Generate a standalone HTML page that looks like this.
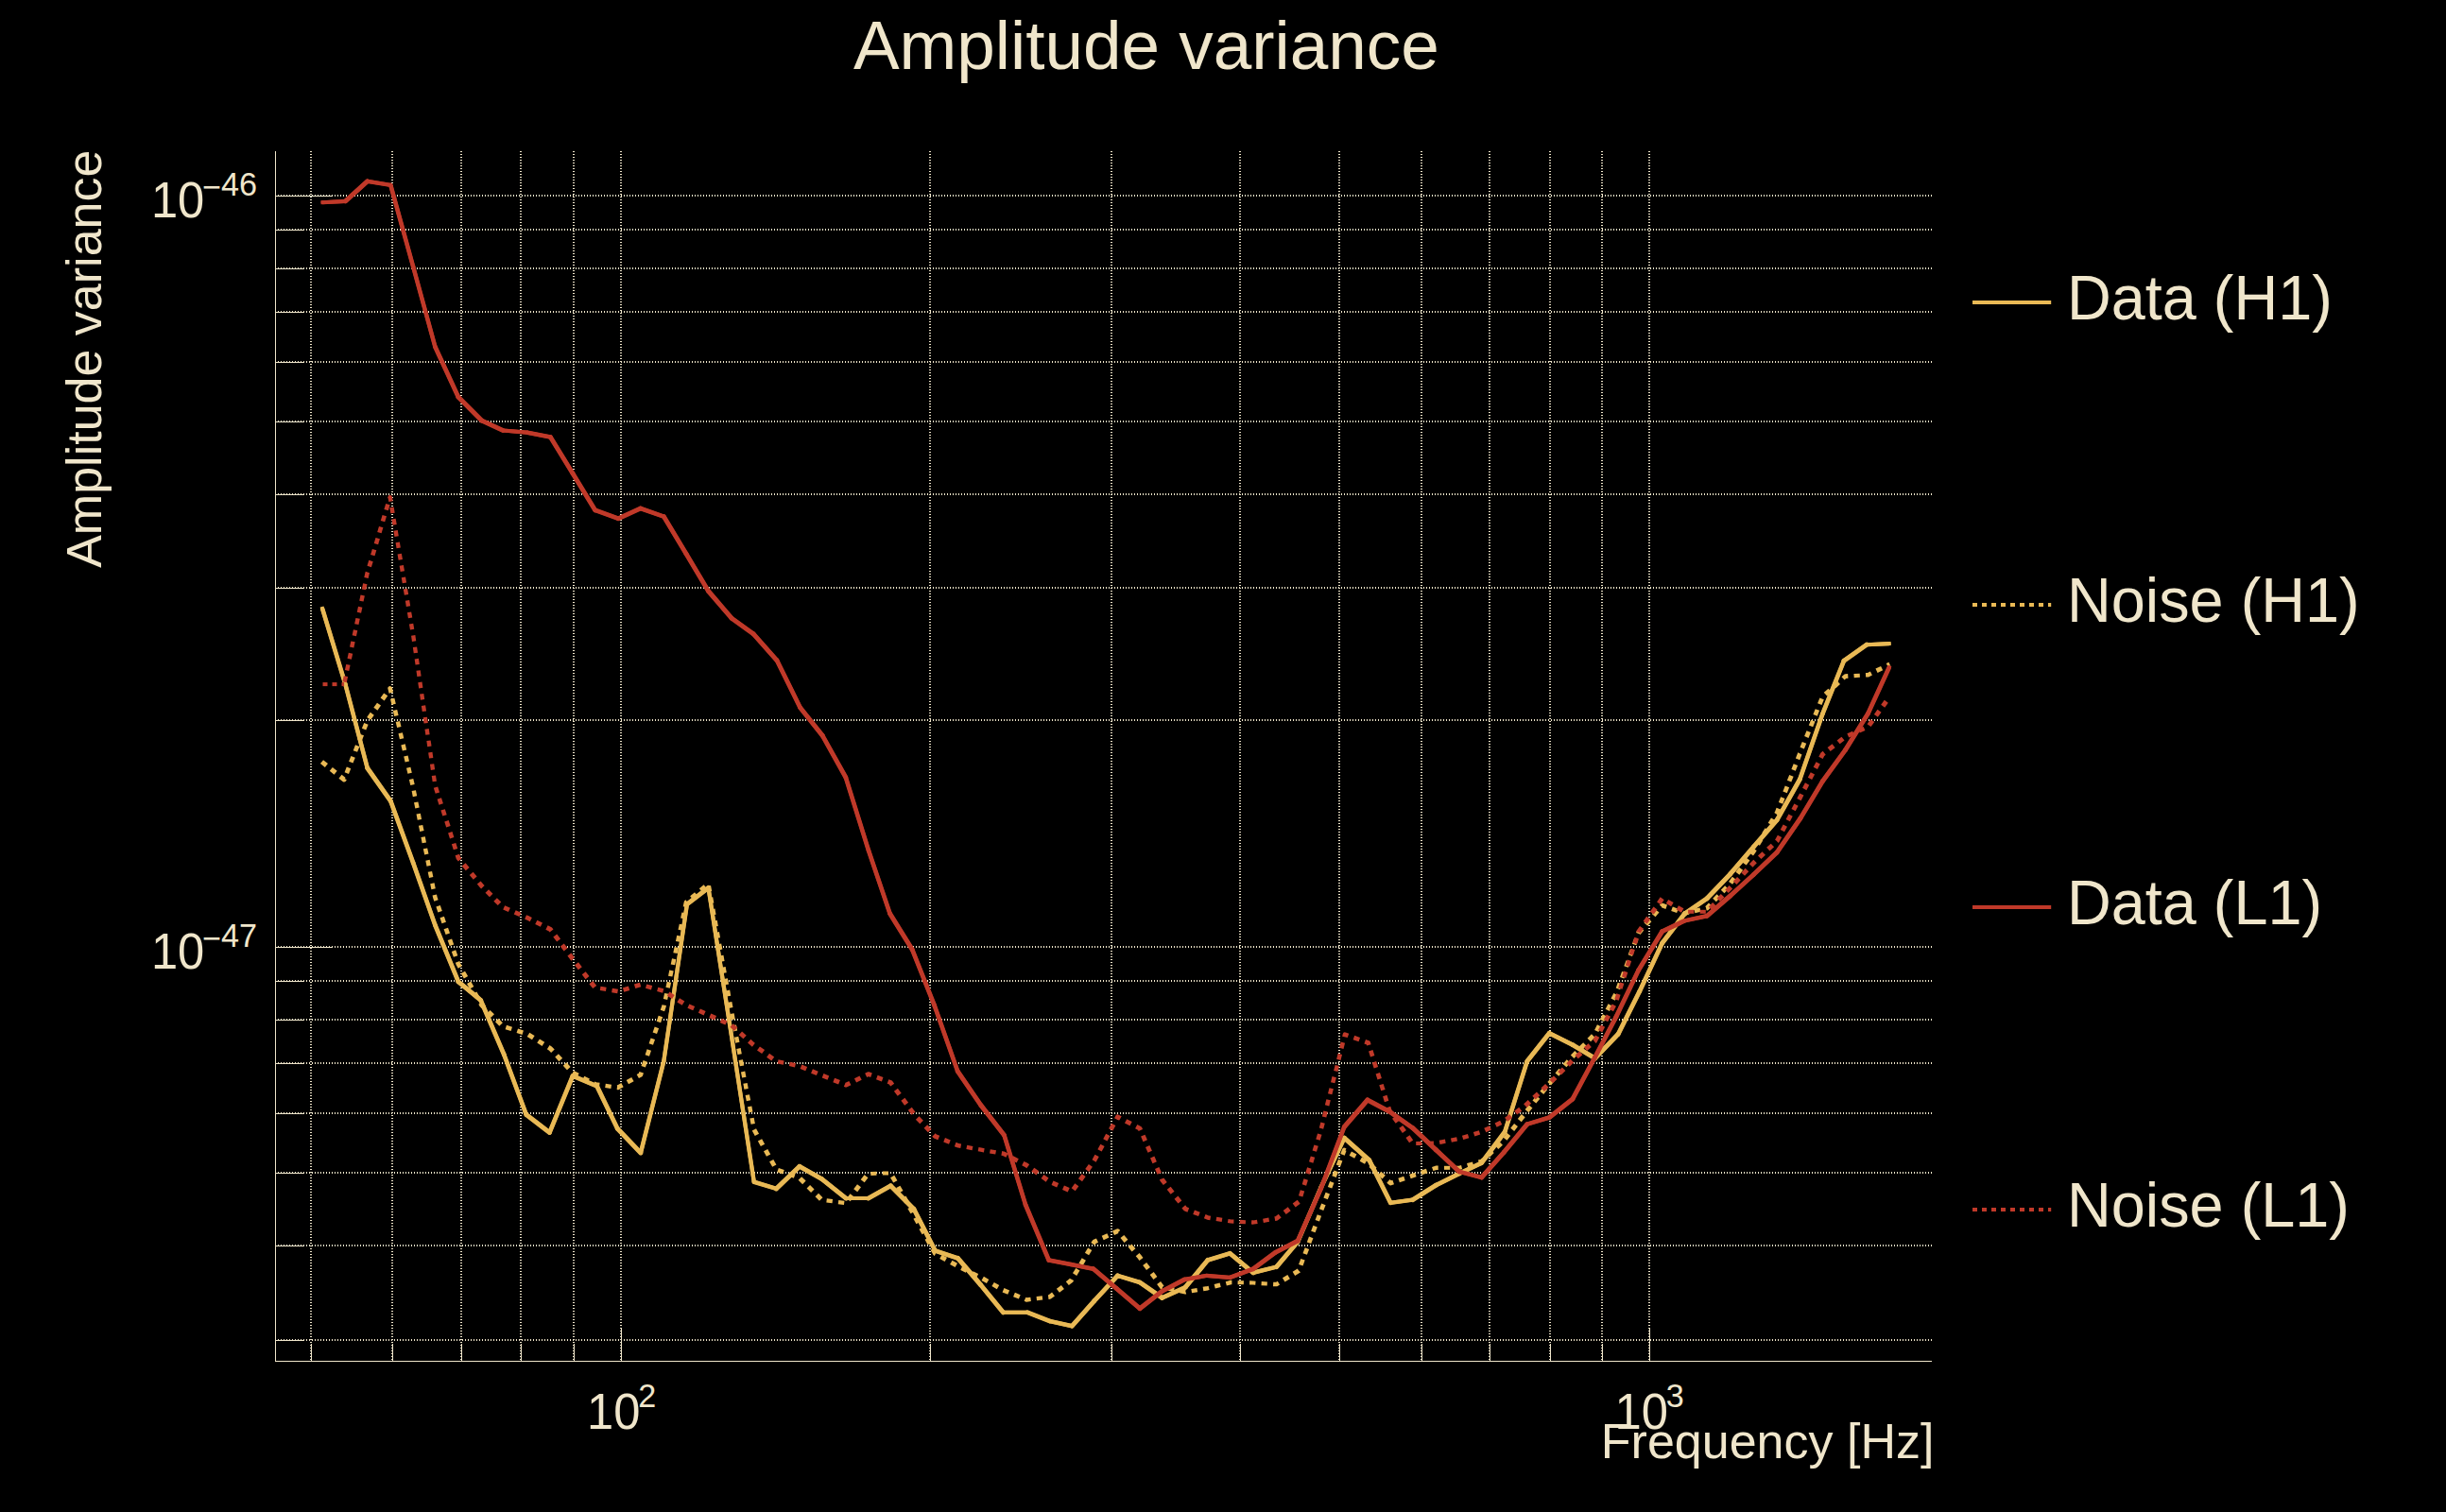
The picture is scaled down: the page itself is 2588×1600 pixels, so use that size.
<!DOCTYPE html>
<html lang="en"><head><meta charset="utf-8"><title>Amplitude variance</title>
<style>
html,body{margin:0;padding:0;background:#000;}
body{width:2588px;height:1600px;overflow:hidden;}
svg{display:block;}
text{font-family:"Liberation Sans",sans-serif;fill:#F0E6CB;}
.grid line{stroke:#F0E6CB;stroke-width:2;stroke-dasharray:1 2;}
.axis line{stroke:#F0E6CB;stroke-width:1;}
</style></head><body>
<svg width="2588" height="1600" viewBox="0 0 2588 1600">
<rect x="0" y="0" width="2588" height="1600" fill="#000"/>
<g class="grid">
<line x1="329" y1="160" x2="329" y2="1440"/>
<line x1="415" y1="160" x2="415" y2="1440"/>
<line x1="488" y1="160" x2="488" y2="1440"/>
<line x1="551" y1="160" x2="551" y2="1440"/>
<line x1="607" y1="160" x2="607" y2="1440"/>
<line x1="657" y1="160" x2="657" y2="1440"/>
<line x1="984" y1="160" x2="984" y2="1440"/>
<line x1="1176" y1="160" x2="1176" y2="1440"/>
<line x1="1312" y1="160" x2="1312" y2="1440"/>
<line x1="1417" y1="160" x2="1417" y2="1440"/>
<line x1="1504" y1="160" x2="1504" y2="1440"/>
<line x1="1576" y1="160" x2="1576" y2="1440"/>
<line x1="1640" y1="160" x2="1640" y2="1440"/>
<line x1="1695" y1="160" x2="1695" y2="1440"/>
<line x1="1745" y1="160" x2="1745" y2="1440"/>
<line x1="291" y1="207" x2="2044" y2="207"/>
<line x1="291" y1="243" x2="2044" y2="243"/>
<line x1="291" y1="284" x2="2044" y2="284"/>
<line x1="291" y1="330" x2="2044" y2="330"/>
<line x1="291" y1="383" x2="2044" y2="383"/>
<line x1="291" y1="446" x2="2044" y2="446"/>
<line x1="291" y1="523" x2="2044" y2="523"/>
<line x1="291" y1="622" x2="2044" y2="622"/>
<line x1="291" y1="762" x2="2044" y2="762"/>
<line x1="291" y1="1002" x2="2044" y2="1002"/>
<line x1="291" y1="1038" x2="2044" y2="1038"/>
<line x1="291" y1="1079" x2="2044" y2="1079"/>
<line x1="291" y1="1125" x2="2044" y2="1125"/>
<line x1="291" y1="1178" x2="2044" y2="1178"/>
<line x1="291" y1="1241" x2="2044" y2="1241"/>
<line x1="291" y1="1318" x2="2044" y2="1318"/>
<line x1="291" y1="1418" x2="2044" y2="1418"/>
</g>
<g class="axis">
<line x1="291.5" y1="160" x2="291.5" y2="1441"/>
<line x1="291" y1="1440.5" x2="2044" y2="1440.5"/>
<line x1="329.5" y1="1440" x2="329.5" y2="1422"/>
<line x1="415.5" y1="1440" x2="415.5" y2="1422"/>
<line x1="488.5" y1="1440" x2="488.5" y2="1422"/>
<line x1="551.5" y1="1440" x2="551.5" y2="1422"/>
<line x1="607.5" y1="1440" x2="607.5" y2="1422"/>
<line x1="657.5" y1="1440" x2="657.5" y2="1405"/>
<line x1="984.5" y1="1440" x2="984.5" y2="1422"/>
<line x1="1176.5" y1="1440" x2="1176.5" y2="1422"/>
<line x1="1312.5" y1="1440" x2="1312.5" y2="1422"/>
<line x1="1417.5" y1="1440" x2="1417.5" y2="1422"/>
<line x1="1504.5" y1="1440" x2="1504.5" y2="1422"/>
<line x1="1576.5" y1="1440" x2="1576.5" y2="1422"/>
<line x1="1640.5" y1="1440" x2="1640.5" y2="1422"/>
<line x1="1695.5" y1="1440" x2="1695.5" y2="1422"/>
<line x1="1745.5" y1="1440" x2="1745.5" y2="1405"/>
<line x1="292" y1="207.5" x2="352" y2="207.5"/>
<line x1="292" y1="243.5" x2="322" y2="243.5"/>
<line x1="292" y1="284.5" x2="322" y2="284.5"/>
<line x1="292" y1="330.5" x2="322" y2="330.5"/>
<line x1="292" y1="383.5" x2="322" y2="383.5"/>
<line x1="292" y1="446.5" x2="322" y2="446.5"/>
<line x1="292" y1="523.5" x2="322" y2="523.5"/>
<line x1="292" y1="622.5" x2="322" y2="622.5"/>
<line x1="292" y1="762.5" x2="322" y2="762.5"/>
<line x1="292" y1="1002.5" x2="352" y2="1002.5"/>
<line x1="292" y1="1038.5" x2="322" y2="1038.5"/>
<line x1="292" y1="1079.5" x2="322" y2="1079.5"/>
<line x1="292" y1="1125.5" x2="322" y2="1125.5"/>
<line x1="292" y1="1178.5" x2="322" y2="1178.5"/>
<line x1="292" y1="1241.5" x2="322" y2="1241.5"/>
<line x1="292" y1="1318.5" x2="322" y2="1318.5"/>
<line x1="292" y1="1418.5" x2="322" y2="1418.5"/>
</g>
<g stroke="#E9B955" fill="none">
<path stroke-width="4" stroke-linejoin="round" d="M340.5 642.1 L365.5 724.5 L388.7 812.7 L413.3 847.6 L437.1 912.9 L460.4 979.0 L485.0 1038.9 L508.6 1058.4 L533.2 1115.8 L556.8 1179.5 L581.5 1198.4 L606.0 1138.5 L631.6 1149.4 L653.3 1194.3 L677.9 1219.9 L702.3 1123.0 L726.9 956.9 L749.5 939.5 L774.1 1097.0 L797.8 1250.7 L821.4 1257.9 L846.0 1234.3 L869.5 1247.6 L895.2 1268.1 L918.7 1268.1 L942.3 1254.8 L966.9 1279.4 L989.5 1323.5 L1013.5 1331.5 L1037.5 1359.5 L1061.5 1388.8 L1087.1 1388.8 L1110.7 1398.0 L1134.3 1403.2 L1157.8 1376.6 L1182.5 1349.9 L1206.0 1357.0 L1229.6 1373.4 L1254.2 1362.2 L1277.8 1333.5 L1301.4 1326.3 L1326.0 1346.8 L1350.6 1340.6 L1373.1 1314.0 L1397.7 1256.6 L1422.3 1204.2 L1448.7 1227.7 L1471.3 1272.8 L1494.8 1269.6 L1519.4 1254.2 L1544.0 1241.9 L1567.6 1230.6 L1592.2 1197.8 L1615.8 1123.0 L1639.3 1093.3 L1663.9 1105.6 L1687.5 1119.9 L1712.1 1094.3 L1734.7 1049.2 L1758.7 998.0 L1782.3 967.1 L1806.0 950.8 L1830.7 924.9 L1855.4 896.2 L1880.2 867.6 L1904.3 824.7 L1928.4 755.3 L1951.0 699.2 L1975.0 682.2 L2000.7 681.0"/>
<path stroke-width="4.62" stroke-linecap="round" d="M341.2 644.3 L365.5 724.5"/>
<path stroke-width="4.56" stroke-linecap="round" d="M365.5 724.5 L388.7 812.7"/>
<path stroke-width="4.96" stroke-linecap="round" d="M388.7 812.7 L413.3 847.6"/>
<path stroke-width="4.70" stroke-linecap="round" d="M413.3 847.6 L437.1 912.9"/>
<path stroke-width="4.69" stroke-linecap="round" d="M437.1 912.9 L460.4 979.0"/>
<path stroke-width="4.76" stroke-linecap="round" d="M460.4 979.0 L485.0 1038.9"/>
<path stroke-width="5.00" stroke-linecap="round" d="M485.0 1038.9 L508.6 1058.4"/>
<path stroke-width="4.77" stroke-linecap="round" d="M508.6 1058.4 L533.2 1115.8"/>
<path stroke-width="4.71" stroke-linecap="round" d="M533.2 1115.8 L556.8 1179.5"/>
<path stroke-width="4.98" stroke-linecap="round" d="M556.8 1179.5 L581.5 1198.4"/>
<path stroke-width="4.75" stroke-linecap="round" d="M581.5 1198.4 L606.0 1138.5"/>
<path stroke-width="4.77" stroke-linecap="round" d="M606.0 1138.5 L631.6 1149.4"/>
<path stroke-width="4.83" stroke-linecap="round" d="M631.6 1149.4 L653.3 1194.3"/>
<path stroke-width="5.01" stroke-linecap="round" d="M653.3 1194.3 L677.9 1219.9"/>
<path stroke-width="4.54" stroke-linecap="round" d="M677.9 1219.9 L702.3 1123.0"/>
<path stroke-width="4.34" stroke-linecap="round" d="M702.3 1123.0 L726.9 956.9"/>
<path stroke-width="4.98" stroke-linecap="round" d="M726.9 956.9 L749.5 939.5"/>
<path stroke-width="4.36" stroke-linecap="round" d="M749.5 939.5 L774.1 1097.0"/>
<path stroke-width="4.36" stroke-linecap="round" d="M774.1 1097.0 L797.8 1250.7"/>
<path stroke-width="4.62" stroke-linecap="round" d="M797.8 1250.7 L821.4 1257.9"/>
<path stroke-width="5.01" stroke-linecap="round" d="M821.4 1257.9 L846.0 1234.3"/>
<path stroke-width="4.89" stroke-linecap="round" d="M846.0 1234.3 L869.5 1247.6"/>
<path stroke-width="4.99" stroke-linecap="round" d="M869.5 1247.6 L895.2 1268.1"/>
<path stroke-width="4.00" stroke-linecap="round" d="M895.2 1268.1 L918.7 1268.1"/>
<path stroke-width="4.89" stroke-linecap="round" d="M918.7 1268.1 L942.3 1254.8"/>
<path stroke-width="5.01" stroke-linecap="round" d="M942.3 1254.8 L966.9 1279.4"/>
<path stroke-width="4.85" stroke-linecap="round" d="M966.9 1279.4 L989.5 1323.5"/>
<path stroke-width="4.66" stroke-linecap="round" d="M989.5 1323.5 L1013.5 1331.5"/>
<path stroke-width="5.00" stroke-linecap="round" d="M1013.5 1331.5 L1037.5 1359.5"/>
<path stroke-width="4.99" stroke-linecap="round" d="M1037.5 1359.5 L1061.5 1388.8"/>
<path stroke-width="4.00" stroke-linecap="round" d="M1061.5 1388.8 L1087.1 1388.8"/>
<path stroke-width="4.73" stroke-linecap="round" d="M1087.1 1388.8 L1110.7 1398.0"/>
<path stroke-width="4.48" stroke-linecap="round" d="M1110.7 1398.0 L1134.3 1403.2"/>
<path stroke-width="5.00" stroke-linecap="round" d="M1134.3 1403.2 L1157.8 1376.6"/>
<path stroke-width="5.01" stroke-linecap="round" d="M1157.8 1376.6 L1182.5 1349.9"/>
<path stroke-width="4.62" stroke-linecap="round" d="M1182.5 1349.9 L1206.0 1357.0"/>
<path stroke-width="4.96" stroke-linecap="round" d="M1206.0 1357.0 L1229.6 1373.4"/>
<path stroke-width="4.80" stroke-linecap="round" d="M1229.6 1373.4 L1254.2 1362.2"/>
<path stroke-width="5.00" stroke-linecap="round" d="M1254.2 1362.2 L1277.8 1333.5"/>
<path stroke-width="4.62" stroke-linecap="round" d="M1277.8 1333.5 L1301.4 1326.3"/>
<path stroke-width="5.00" stroke-linecap="round" d="M1301.4 1326.3 L1326.0 1346.8"/>
<path stroke-width="4.54" stroke-linecap="round" d="M1326.0 1346.8 L1350.6 1340.6"/>
<path stroke-width="5.00" stroke-linecap="round" d="M1350.6 1340.6 L1373.1 1314.0"/>
<path stroke-width="4.77" stroke-linecap="round" d="M1373.1 1314.0 L1397.7 1256.6"/>
<path stroke-width="4.82" stroke-linecap="round" d="M1397.7 1256.6 L1422.3 1204.2"/>
<path stroke-width="5.01" stroke-linecap="round" d="M1422.3 1204.2 L1448.7 1227.7"/>
<path stroke-width="4.84" stroke-linecap="round" d="M1448.7 1227.7 L1471.3 1272.8"/>
<path stroke-width="4.32" stroke-linecap="round" d="M1471.3 1272.8 L1494.8 1269.6"/>
<path stroke-width="4.93" stroke-linecap="round" d="M1494.8 1269.6 L1519.4 1254.2"/>
<path stroke-width="4.84" stroke-linecap="round" d="M1519.4 1254.2 L1544.0 1241.9"/>
<path stroke-width="4.82" stroke-linecap="round" d="M1544.0 1241.9 L1567.6 1230.6"/>
<path stroke-width="4.98" stroke-linecap="round" d="M1567.6 1230.6 L1592.2 1197.8"/>
<path stroke-width="4.64" stroke-linecap="round" d="M1592.2 1197.8 L1615.8 1123.0"/>
<path stroke-width="4.99" stroke-linecap="round" d="M1615.8 1123.0 L1639.3 1093.3"/>
<path stroke-width="4.84" stroke-linecap="round" d="M1639.3 1093.3 L1663.9 1105.6"/>
<path stroke-width="4.92" stroke-linecap="round" d="M1663.9 1105.6 L1687.5 1119.9"/>
<path stroke-width="5.01" stroke-linecap="round" d="M1687.5 1119.9 L1712.1 1094.3"/>
<path stroke-width="4.84" stroke-linecap="round" d="M1712.1 1094.3 L1734.7 1049.2"/>
<path stroke-width="4.81" stroke-linecap="round" d="M1734.7 1049.2 L1758.7 998.0"/>
<path stroke-width="4.98" stroke-linecap="round" d="M1758.7 998.0 L1782.3 967.1"/>
<path stroke-width="4.96" stroke-linecap="round" d="M1782.3 967.1 L1806.0 950.8"/>
<path stroke-width="5.01" stroke-linecap="round" d="M1806.0 950.8 L1830.7 924.9"/>
<path stroke-width="5.00" stroke-linecap="round" d="M1830.7 924.9 L1855.4 896.2"/>
<path stroke-width="5.00" stroke-linecap="round" d="M1855.4 896.2 L1880.2 867.6"/>
<path stroke-width="4.89" stroke-linecap="round" d="M1880.2 867.6 L1904.3 824.7"/>
<path stroke-width="4.68" stroke-linecap="round" d="M1904.3 824.7 L1928.4 755.3"/>
<path stroke-width="4.75" stroke-linecap="round" d="M1928.4 755.3 L1951.0 699.2"/>
<path stroke-width="4.96" stroke-linecap="round" d="M1951.0 699.2 L1975.0 682.2"/>
<path stroke-width="4.12" stroke-linecap="round" d="M1975.0 682.2 L1998.6 681.1"/>
</g>
<g stroke="#E9B955" fill="none" stroke-linejoin="round">
<path stroke-width="4.99" d="M340.5 806.1 L345.4 810.0"/>
<path stroke-width="4.99" d="M350.3 813.9 L355.1 817.8"/>
<path stroke-width="4.95" d="M360.0 821.7 L364.1 825.0 L364.5 824.1"/>
<path stroke-width="4.74" d="M366.8 818.2 L369.0 812.4"/>
<path stroke-width="4.74" d="M371.3 806.6 L373.6 800.8"/>
<path stroke-width="4.74" d="M375.9 795.0 L378.2 789.2"/>
<path stroke-width="4.74" d="M380.5 783.3 L382.8 777.5"/>
<path stroke-width="4.74" d="M385.1 771.7 L387.4 765.9"/>
<path stroke-width="4.96" d="M390.2 760.4 L393.8 755.3"/>
<path stroke-width="4.96" d="M397.4 750.2 L401.0 745.1"/>
<path stroke-width="4.96" d="M404.6 740.0 L408.2 734.8"/>
<path stroke-width="4.62" d="M411.8 729.7 L412.7 728.5 L413.8 733.1"/>
<path stroke-width="4.51" d="M415.2 739.2 L416.6 745.3"/>
<path stroke-width="4.51" d="M418.0 751.4 L419.4 757.5"/>
<path stroke-width="4.51" d="M420.9 763.5 L422.3 769.6"/>
<path stroke-width="4.51" d="M423.7 775.7 L425.1 781.8"/>
<path stroke-width="4.51" d="M426.5 787.9 L428.0 794.0"/>
<path stroke-width="4.51" d="M429.4 800.1 L430.8 806.1"/>
<path stroke-width="4.51" d="M432.2 812.2 L433.6 818.3"/>
<path stroke-width="4.51" d="M435.1 824.4 L436.5 830.5"/>
<path stroke-width="4.45" d="M437.8 836.6 L439.0 842.7"/>
<path stroke-width="4.45" d="M440.2 848.9 L441.5 855.0"/>
<path stroke-width="4.45" d="M442.7 861.1 L443.9 867.3"/>
<path stroke-width="4.45" d="M445.1 873.4 L446.4 879.5"/>
<path stroke-width="4.45" d="M447.6 885.6 L448.8 891.8"/>
<path stroke-width="4.45" d="M450.0 897.9 L451.3 904.0"/>
<path stroke-width="4.45" d="M452.5 910.2 L453.7 916.3"/>
<path stroke-width="4.45" d="M454.9 922.4 L456.2 928.5"/>
<path stroke-width="4.45" d="M457.4 934.7 L458.6 940.8"/>
<path stroke-width="4.57" d="M459.8 946.9 L460.4 949.7 L461.5 952.9"/>
<path stroke-width="4.68" d="M463.6 958.8 L465.6 964.7"/>
<path stroke-width="4.68" d="M467.7 970.6 L469.7 976.5"/>
<path stroke-width="4.68" d="M471.8 982.4 L473.8 988.3"/>
<path stroke-width="4.68" d="M475.9 994.2 L478.0 1000.2"/>
<path stroke-width="4.68" d="M480.0 1006.1 L482.1 1012.0"/>
<path stroke-width="4.80" d="M484.1 1017.9 L485.0 1020.4 L486.8 1023.5"/>
<path stroke-width="4.89" d="M489.9 1028.9 L493.0 1034.3"/>
<path stroke-width="4.89" d="M496.1 1039.8 L499.2 1045.2"/>
<path stroke-width="4.89" d="M502.3 1050.6 L505.4 1056.1"/>
<path stroke-width="4.97" d="M508.5 1061.5 L509.6 1063.5 L512.4 1066.3"/>
<path stroke-width="5.01" d="M516.8 1070.7 L521.2 1075.1"/>
<path stroke-width="5.01" d="M525.7 1079.5 L530.1 1083.9"/>
<path stroke-width="4.64" d="M535.3 1087.0 L541.3 1088.9"/>
<path stroke-width="4.64" d="M547.3 1090.8 L553.2 1092.7"/>
<path stroke-width="4.93" d="M559.0 1094.9 L564.3 1098.2"/>
<path stroke-width="4.93" d="M569.6 1101.5 L574.9 1104.9"/>
<path stroke-width="4.98" d="M580.2 1108.2 L582.4 1109.6 L584.9 1112.3"/>
<path stroke-width="5.01" d="M589.1 1116.9 L593.3 1121.5"/>
<path stroke-width="5.01" d="M597.6 1126.0 L601.8 1130.6"/>
<path stroke-width="4.84" d="M606.0 1135.2 L611.6 1138.0"/>
<path stroke-width="4.84" d="M617.2 1140.8 L622.8 1143.6"/>
<path stroke-width="4.53" d="M628.4 1146.4 L630.5 1147.5 L634.3 1148.0"/>
<path stroke-width="4.33" d="M640.5 1148.9 L646.7 1149.8"/>
<path stroke-width="4.81" d="M652.9 1150.7 L653.8 1150.8 L658.5 1148.2"/>
<path stroke-width="4.89" d="M663.9 1145.1 L669.4 1142.1"/>
<path stroke-width="4.79" d="M674.8 1139.0 L677.8 1137.4 L678.7 1134.7"/>
<path stroke-width="4.67" d="M680.7 1128.8 L682.8 1122.9"/>
<path stroke-width="4.67" d="M684.8 1116.9 L686.8 1111.0"/>
<path stroke-width="4.67" d="M688.8 1105.1 L690.8 1099.2"/>
<path stroke-width="4.67" d="M692.8 1093.3 L694.9 1087.4"/>
<path stroke-width="4.67" d="M696.9 1081.4 L698.9 1075.5"/>
<path stroke-width="4.61" d="M700.9 1069.6 L702.3 1065.5 L702.7 1063.6"/>
<path stroke-width="4.47" d="M704.0 1057.5 L705.3 1051.4"/>
<path stroke-width="4.47" d="M706.6 1045.3 L707.9 1039.2"/>
<path stroke-width="4.47" d="M709.2 1033.1 L710.5 1027.0"/>
<path stroke-width="4.47" d="M711.9 1020.9 L713.2 1014.7"/>
<path stroke-width="4.47" d="M714.5 1008.6 L715.8 1002.5"/>
<path stroke-width="4.47" d="M717.1 996.4 L718.4 990.3"/>
<path stroke-width="4.47" d="M719.7 984.2 L721.0 978.1"/>
<path stroke-width="4.47" d="M722.3 972.0 L723.6 965.9"/>
<path stroke-width="4.57" d="M724.9 959.7 L726.0 954.8 L726.9 954.0"/>
<path stroke-width="5.00" d="M731.7 950.1 L736.6 946.1"/>
<path stroke-width="5.00" d="M741.4 942.1 L746.2 938.1"/>
<path stroke-width="4.41" d="M749.9 937.3 L751.0 943.5"/>
<path stroke-width="4.41" d="M752.1 949.6 L753.2 955.8"/>
<path stroke-width="4.41" d="M754.3 961.9 L755.4 968.1"/>
<path stroke-width="4.41" d="M756.6 974.2 L757.7 980.4"/>
<path stroke-width="4.41" d="M758.8 986.5 L759.9 992.7"/>
<path stroke-width="4.41" d="M761.0 998.8 L762.2 1005.0"/>
<path stroke-width="4.41" d="M763.3 1011.1 L764.4 1017.3"/>
<path stroke-width="4.41" d="M765.5 1023.4 L766.6 1029.6"/>
<path stroke-width="4.41" d="M767.7 1035.7 L768.9 1041.9"/>
<path stroke-width="4.41" d="M770.0 1048.0 L771.1 1054.2"/>
<path stroke-width="4.41" d="M772.2 1060.3 L773.3 1066.5"/>
<path stroke-width="4.43" d="M774.5 1072.6 L775.6 1078.8"/>
<path stroke-width="4.43" d="M776.8 1084.9 L778.0 1091.0"/>
<path stroke-width="4.43" d="M779.1 1097.2 L780.3 1103.3"/>
<path stroke-width="4.43" d="M781.5 1109.5 L782.6 1115.6"/>
<path stroke-width="4.43" d="M783.8 1121.7 L785.0 1127.9"/>
<path stroke-width="4.43" d="M786.1 1134.0 L787.3 1140.2"/>
<path stroke-width="4.43" d="M788.5 1146.3 L789.6 1152.4"/>
<path stroke-width="4.43" d="M790.8 1158.6 L792.0 1164.7"/>
<path stroke-width="4.43" d="M793.2 1170.9 L794.3 1177.0"/>
<path stroke-width="4.43" d="M795.5 1183.1 L796.7 1189.3"/>
<path stroke-width="4.89" d="M797.9 1195.4 L800.9 1200.9"/>
<path stroke-width="4.89" d="M804.0 1206.3 L807.0 1211.8"/>
<path stroke-width="4.89" d="M810.1 1217.2 L813.1 1222.7"/>
<path stroke-width="4.89" d="M816.2 1228.1 L819.3 1233.6"/>
<path stroke-width="4.71" d="M823.1 1238.1 L829.0 1240.2"/>
<path stroke-width="4.71" d="M834.8 1242.4 L840.7 1244.6"/>
<path stroke-width="5.01" d="M846.4 1247.0 L850.9 1251.4"/>
<path stroke-width="5.01" d="M855.3 1255.8 L859.8 1260.2"/>
<path stroke-width="5.01" d="M864.3 1264.5 L868.7 1268.9"/>
<path stroke-width="4.32" d="M874.6 1270.4 L880.8 1271.2"/>
<path stroke-width="4.32" d="M887.0 1272.1 L893.2 1272.9"/>
<path stroke-width="4.98" d="M897.7 1269.8 L901.5 1264.8"/>
<path stroke-width="4.98" d="M905.2 1259.8 L909.0 1254.8"/>
<path stroke-width="4.98" d="M912.7 1249.8 L916.5 1244.8"/>
<path stroke-width="4.04" d="M921.3 1241.9 L927.5 1241.8"/>
<path stroke-width="4.04" d="M933.8 1241.6 L940.0 1241.5"/>
<path stroke-width="4.89" d="M944.2 1245.0 L947.3 1250.4"/>
<path stroke-width="4.89" d="M950.3 1255.9 L953.4 1261.3"/>
<path stroke-width="4.89" d="M956.4 1266.8 L959.5 1272.2"/>
<path stroke-width="4.89" d="M962.5 1277.7 L965.6 1283.1"/>
<path stroke-width="4.88" d="M968.6 1288.6 L971.6 1294.1"/>
<path stroke-width="4.88" d="M974.6 1299.6 L977.7 1305.0"/>
<path stroke-width="4.88" d="M980.7 1310.5 L983.7 1316.0"/>
<path stroke-width="4.88" d="M986.7 1321.5 L989.5 1326.5 L989.9 1326.7"/>
<path stroke-width="4.88" d="M995.4 1329.8 L1000.8 1332.8"/>
<path stroke-width="4.88" d="M1006.3 1335.8 L1011.8 1338.9"/>
<path stroke-width="4.83" d="M1017.3 1341.8 L1022.9 1344.5"/>
<path stroke-width="4.83" d="M1028.5 1347.3 L1034.1 1350.1"/>
<path stroke-width="4.89" d="M1039.7 1352.9 L1045.1 1356.0"/>
<path stroke-width="4.89" d="M1050.6 1359.0 L1056.0 1362.1"/>
<path stroke-width="4.76" d="M1061.5 1365.2 L1061.5 1365.2 L1067.2 1367.6"/>
<path stroke-width="4.76" d="M1073.0 1370.0 L1078.8 1372.4"/>
<path stroke-width="4.43" d="M1084.5 1374.8 L1086.1 1375.5 L1090.6 1374.9"/>
<path stroke-width="4.30" d="M1096.8 1374.1 L1103.0 1373.4"/>
<path stroke-width="4.82" d="M1109.2 1372.6 L1110.7 1372.4 L1114.5 1369.5"/>
<path stroke-width="4.98" d="M1119.4 1365.7 L1124.4 1361.9"/>
<path stroke-width="4.97" d="M1129.3 1358.1 L1133.3 1355.0 L1133.9 1353.9"/>
<path stroke-width="4.91" d="M1137.1 1348.6 L1140.4 1343.2"/>
<path stroke-width="4.91" d="M1143.6 1337.9 L1146.8 1332.5"/>
<path stroke-width="4.91" d="M1150.0 1327.1 L1153.2 1321.8"/>
<path stroke-width="4.85" d="M1156.4 1316.4 L1157.9 1314.0 L1161.0 1312.6"/>
<path stroke-width="4.81" d="M1166.7 1310.0 L1172.4 1307.4"/>
<path stroke-width="4.85" d="M1178.0 1304.7 L1182.5 1302.7 L1183.4 1303.7"/>
<path stroke-width="5.00" d="M1187.4 1308.5 L1191.5 1313.3"/>
<path stroke-width="5.00" d="M1195.5 1318.0 L1199.5 1322.8"/>
<path stroke-width="4.99" d="M1203.6 1327.6 L1206.0 1330.4 L1207.5 1332.4"/>
<path stroke-width="4.98" d="M1211.2 1337.4 L1215.0 1342.5"/>
<path stroke-width="4.98" d="M1218.7 1347.5 L1222.4 1352.5"/>
<path stroke-width="4.94" d="M1226.1 1357.5 L1229.6 1362.2 L1230.0 1362.3"/>
<path stroke-width="4.46" d="M1236.1 1363.6 L1242.3 1364.8"/>
<path stroke-width="4.46" d="M1248.4 1366.1 L1254.2 1367.3 L1254.5 1367.2"/>
<path stroke-width="4.40" d="M1260.7 1366.2 L1266.8 1365.1"/>
<path stroke-width="4.43" d="M1273.0 1364.0 L1277.8 1363.2 L1279.1 1362.9"/>
<path stroke-width="4.54" d="M1285.2 1361.3 L1291.2 1359.8"/>
<path stroke-width="4.46" d="M1297.3 1358.3 L1302.4 1357.0 L1303.4 1357.0"/>
<path stroke-width="4.05" d="M1309.6 1357.2 L1315.9 1357.3"/>
<path stroke-width="4.09" d="M1322.1 1357.4 L1326.0 1357.5 L1328.4 1357.7"/>
<path stroke-width="4.16" d="M1334.6 1358.1 L1340.8 1358.5"/>
<path stroke-width="4.49" d="M1347.1 1358.9 L1350.6 1359.1 L1352.9 1357.7"/>
<path stroke-width="4.92" d="M1358.2 1354.4 L1363.6 1351.1"/>
<path stroke-width="4.91" d="M1368.9 1347.9 L1374.1 1344.7 L1374.2 1344.6"/>
<path stroke-width="4.71" d="M1376.3 1338.7 L1378.5 1332.8"/>
<path stroke-width="4.71" d="M1380.7 1327.0 L1382.9 1321.1"/>
<path stroke-width="4.71" d="M1385.0 1315.3 L1387.2 1309.4"/>
<path stroke-width="4.71" d="M1389.4 1303.5 L1391.6 1297.7"/>
<path stroke-width="4.71" d="M1393.8 1291.8 L1395.9 1286.0"/>
<path stroke-width="4.72" d="M1398.1 1280.1 L1400.4 1274.3"/>
<path stroke-width="4.72" d="M1402.6 1268.4 L1404.8 1262.6"/>
<path stroke-width="4.72" d="M1407.1 1256.8 L1409.3 1250.9"/>
<path stroke-width="4.72" d="M1411.5 1245.1 L1413.8 1239.3"/>
<path stroke-width="4.72" d="M1416.0 1233.4 L1418.2 1227.6"/>
<path stroke-width="4.75" d="M1420.5 1221.8 L1422.3 1217.0 L1423.3 1217.6"/>
<path stroke-width="4.88" d="M1428.8 1220.6 L1434.3 1223.6"/>
<path stroke-width="4.88" d="M1439.8 1226.6 L1445.2 1229.6"/>
<path stroke-width="5.01" d="M1450.2 1233.2 L1454.9 1237.4"/>
<path stroke-width="5.01" d="M1459.6 1241.6 L1464.2 1245.7"/>
<path stroke-width="4.84" d="M1468.9 1249.9 L1471.3 1252.0 L1474.2 1251.0"/>
<path stroke-width="4.67" d="M1480.1 1249.0 L1486.0 1247.0"/>
<path stroke-width="4.66" d="M1491.9 1245.0 L1494.8 1244.0 L1497.9 1243.0"/>
<path stroke-width="4.66" d="M1503.8 1241.0 L1509.7 1239.0"/>
<path stroke-width="4.42" d="M1515.7 1237.0 L1519.4 1235.8 L1521.7 1235.8"/>
<path stroke-width="4.00" d="M1528.0 1235.8 L1534.2 1235.8"/>
<path stroke-width="4.26" d="M1540.5 1235.8 L1544.0 1235.8 L1546.6 1235.1"/>
<path stroke-width="4.59" d="M1552.6 1233.3 L1558.6 1231.6"/>
<path stroke-width="4.80" d="M1564.6 1229.9 L1567.6 1229.0 L1569.9 1226.9"/>
<path stroke-width="5.01" d="M1574.5 1222.6 L1579.0 1218.3"/>
<path stroke-width="5.01" d="M1583.6 1214.1 L1588.2 1209.8"/>
<path stroke-width="4.98" d="M1592.5 1205.3 L1596.3 1200.4"/>
<path stroke-width="4.98" d="M1600.2 1195.4 L1604.0 1190.5"/>
<path stroke-width="4.98" d="M1607.8 1185.6 L1611.7 1180.6"/>
<path stroke-width="4.99" d="M1615.5 1175.7 L1619.5 1170.9"/>
<path stroke-width="4.99" d="M1623.4 1166.0 L1627.4 1161.2"/>
<path stroke-width="4.99" d="M1631.3 1156.3 L1635.3 1151.5"/>
<path stroke-width="5.00" d="M1639.2 1146.7 L1639.3 1146.6 L1643.3 1141.9"/>
<path stroke-width="5.00" d="M1647.4 1137.2 L1651.4 1132.4"/>
<path stroke-width="5.00" d="M1655.5 1127.7 L1659.6 1122.9"/>
<path stroke-width="5.01" d="M1663.6 1118.2 L1663.9 1117.9 L1668.0 1113.8"/>
<path stroke-width="5.01" d="M1672.5 1109.3 L1676.9 1104.9"/>
<path stroke-width="5.01" d="M1681.3 1100.5 L1685.7 1096.1"/>
<path stroke-width="4.86" d="M1689.2 1091.0 L1692.1 1085.4"/>
<path stroke-width="4.86" d="M1695.0 1079.9 L1697.9 1074.4"/>
<path stroke-width="4.86" d="M1700.8 1068.8 L1703.7 1063.3"/>
<path stroke-width="4.86" d="M1706.6 1057.7 L1709.5 1052.2"/>
<path stroke-width="4.70" d="M1711.9 1046.4 L1714.0 1040.6"/>
<path stroke-width="4.70" d="M1716.2 1034.7 L1718.3 1028.8"/>
<path stroke-width="4.70" d="M1720.5 1023.0 L1722.7 1017.1"/>
<path stroke-width="4.70" d="M1724.8 1011.2 L1727.0 1005.4"/>
<path stroke-width="4.70" d="M1729.1 999.5 L1731.3 993.6"/>
<path stroke-width="4.98" d="M1733.4 987.8 L1733.6 987.3 L1737.3 982.9"/>
<path stroke-width="5.00" d="M1741.4 978.2 L1745.5 973.5"/>
<path stroke-width="5.00" d="M1749.6 968.7 L1753.6 964.0"/>
<path stroke-width="4.77" d="M1757.7 959.3 L1758.7 958.1 L1763.2 959.7"/>
<path stroke-width="4.69" d="M1769.0 961.8 L1774.9 963.9"/>
<path stroke-width="4.55" d="M1780.8 966.0 L1782.3 966.5 L1786.9 965.4"/>
<path stroke-width="4.50" d="M1792.9 964.0 L1799.0 962.6"/>
<path stroke-width="4.94" d="M1805.1 961.2 L1806.0 961.0 L1809.7 957.1"/>
<path stroke-width="5.01" d="M1814.0 952.6 L1818.3 948.1"/>
<path stroke-width="5.01" d="M1822.6 943.5 L1826.9 939.0"/>
<path stroke-width="4.97" d="M1831.1 934.4 L1834.8 929.3"/>
<path stroke-width="4.97" d="M1838.4 924.3 L1842.1 919.2"/>
<path stroke-width="4.97" d="M1845.7 914.1 L1849.4 909.0"/>
<path stroke-width="4.95" d="M1853.0 904.0 L1855.4 900.7 L1856.6 898.8"/>
<path stroke-width="4.92" d="M1859.8 893.5 L1863.1 888.1"/>
<path stroke-width="4.92" d="M1866.3 882.8 L1869.6 877.5"/>
<path stroke-width="4.92" d="M1872.8 872.1 L1876.1 866.8"/>
<path stroke-width="4.78" d="M1879.3 861.4 L1880.2 860.0 L1881.8 855.7"/>
<path stroke-width="4.73" d="M1884.1 849.9 L1886.3 844.1"/>
<path stroke-width="4.73" d="M1888.6 838.3 L1890.9 832.4"/>
<path stroke-width="4.73" d="M1893.1 826.6 L1895.4 820.8"/>
<path stroke-width="4.73" d="M1897.6 814.9 L1899.9 809.1"/>
<path stroke-width="4.73" d="M1902.1 803.3 L1904.3 797.6 L1904.4 797.4"/>
<path stroke-width="4.74" d="M1906.7 791.6 L1909.0 785.8"/>
<path stroke-width="4.74" d="M1911.3 780.0 L1913.7 774.2"/>
<path stroke-width="4.74" d="M1916.0 768.4 L1918.3 762.6"/>
<path stroke-width="4.74" d="M1920.6 756.8 L1922.9 751.0"/>
<path stroke-width="4.74" d="M1925.3 745.2 L1927.6 739.4"/>
<path stroke-width="5.01" d="M1931.4 734.7 L1936.1 730.5"/>
<path stroke-width="5.01" d="M1940.7 726.3 L1945.3 722.1"/>
<path stroke-width="4.62" d="M1950.0 717.9 L1952.5 715.6 L1955.3 715.4"/>
<path stroke-width="4.15" d="M1961.6 715.1 L1967.8 714.7"/>
<path stroke-width="4.56" d="M1974.0 714.3 L1976.5 714.2 L1979.9 712.5"/>
<path stroke-width="4.83" d="M1985.5 709.8 L1991.1 707.1"/>
<path stroke-width="4.83" d="M1996.8 704.3 L1999.5 703.0"/>
</g>
<g stroke="#C03929" fill="none">
<path stroke-width="4" stroke-linejoin="round" d="M339.5 214.3 L365.5 212.9 L388.7 191.8 L413.3 195.9 L437.1 282.0 L460.4 367.0 L485.0 420.3 L509.6 445.0 L532.2 455.5 L558.0 457.7 L582.4 462.5 L606.0 501.0 L629.6 539.8 L654.2 548.7 L677.7 538.0 L702.3 546.6 L726.0 586.0 L749.5 625.5 L774.1 654.2 L797.0 670.7 L822.0 698.8 L846.6 748.7 L870.2 778.4 L894.8 822.5 L919.0 900.0 L941.5 966.6 L965.1 1004.6 L988.7 1064.0 L1013.3 1133.7 L1037.9 1169.6 L1062.5 1201.3 L1085.1 1275.0 L1109.7 1333.5 L1133.0 1338.0 L1156.8 1342.7 L1181.5 1363.7 L1206.0 1384.7 L1229.6 1366.3 L1253.2 1354.0 L1276.8 1349.9 L1301.4 1351.9 L1326.0 1342.7 L1349.5 1325.3 L1373.1 1313.0 L1397.7 1257.6 L1422.3 1192.5 L1446.9 1164.0 L1470.5 1176.5 L1494.8 1193.7 L1519.4 1216.8 L1544.0 1239.9 L1567.6 1246.0 L1591.2 1219.4 L1615.8 1189.6 L1639.3 1182.5 L1663.9 1163.0 L1687.5 1118.9 L1710.0 1075.9 L1733.6 1026.7 L1758.7 985.6 L1782.3 974.4 L1806.0 969.3 L1830.7 948.0 L1855.4 925.5 L1880.2 901.9 L1904.9 866.0 L1928.4 826.7 L1952.5 793.6 L1976.5 755.0 L1999.6 704.5"/>
<path stroke-width="4.13" stroke-linecap="round" d="M341.6 214.2 L365.5 212.9"/>
<path stroke-width="5.01" stroke-linecap="round" d="M365.5 212.9 L388.7 191.8"/>
<path stroke-width="4.38" stroke-linecap="round" d="M388.7 191.8 L413.3 195.9"/>
<path stroke-width="4.58" stroke-linecap="round" d="M413.3 195.9 L437.1 282.0"/>
<path stroke-width="4.57" stroke-linecap="round" d="M437.1 282.0 L460.4 367.0"/>
<path stroke-width="4.81" stroke-linecap="round" d="M460.4 367.0 L485.0 420.3"/>
<path stroke-width="5.01" stroke-linecap="round" d="M485.0 420.3 L509.6 445.0"/>
<path stroke-width="4.81" stroke-linecap="round" d="M509.6 445.0 L532.2 455.5"/>
<path stroke-width="4.21" stroke-linecap="round" d="M532.2 455.5 L558.0 457.7"/>
<path stroke-width="4.44" stroke-linecap="round" d="M558.0 457.7 L582.4 462.5"/>
<path stroke-width="4.92" stroke-linecap="round" d="M582.4 462.5 L606.0 501.0"/>
<path stroke-width="4.92" stroke-linecap="round" d="M606.0 501.0 L629.6 539.8"/>
<path stroke-width="4.70" stroke-linecap="round" d="M629.6 539.8 L654.2 548.7"/>
<path stroke-width="4.80" stroke-linecap="round" d="M654.2 548.7 L677.7 538.0"/>
<path stroke-width="4.68" stroke-linecap="round" d="M677.7 538.0 L702.3 546.6"/>
<path stroke-width="4.91" stroke-linecap="round" d="M702.3 546.6 L726.0 586.0"/>
<path stroke-width="4.91" stroke-linecap="round" d="M726.0 586.0 L749.5 625.5"/>
<path stroke-width="5.00" stroke-linecap="round" d="M749.5 625.5 L774.1 654.2"/>
<path stroke-width="4.97" stroke-linecap="round" d="M774.1 654.2 L797.0 670.7"/>
<path stroke-width="5.01" stroke-linecap="round" d="M797.0 670.7 L822.0 698.8"/>
<path stroke-width="4.84" stroke-linecap="round" d="M822.0 698.8 L846.6 748.7"/>
<path stroke-width="4.99" stroke-linecap="round" d="M846.6 748.7 L870.2 778.4"/>
<path stroke-width="4.89" stroke-linecap="round" d="M870.2 778.4 L894.8 822.5"/>
<path stroke-width="4.63" stroke-linecap="round" d="M894.8 822.5 L919.0 900.0"/>
<path stroke-width="4.67" stroke-linecap="round" d="M919.0 900.0 L941.5 966.6"/>
<path stroke-width="4.92" stroke-linecap="round" d="M941.5 966.6 L965.1 1004.6"/>
<path stroke-width="4.74" stroke-linecap="round" d="M965.1 1004.6 L988.7 1064.0"/>
<path stroke-width="4.69" stroke-linecap="round" d="M988.7 1064.0 L1013.3 1133.7"/>
<path stroke-width="4.96" stroke-linecap="round" d="M1013.3 1133.7 L1037.9 1169.6"/>
<path stroke-width="4.99" stroke-linecap="round" d="M1037.9 1169.6 L1062.5 1201.3"/>
<path stroke-width="4.62" stroke-linecap="round" d="M1062.5 1201.3 L1085.1 1275.0"/>
<path stroke-width="4.77" stroke-linecap="round" d="M1085.1 1275.0 L1109.7 1333.5"/>
<path stroke-width="4.43" stroke-linecap="round" d="M1109.7 1333.5 L1133.0 1338.0"/>
<path stroke-width="4.44" stroke-linecap="round" d="M1133.0 1338.0 L1156.8 1342.7"/>
<path stroke-width="5.00" stroke-linecap="round" d="M1156.8 1342.7 L1181.5 1363.7"/>
<path stroke-width="5.00" stroke-linecap="round" d="M1181.5 1363.7 L1206.0 1384.7"/>
<path stroke-width="4.99" stroke-linecap="round" d="M1206.0 1384.7 L1229.6 1366.3"/>
<path stroke-width="4.86" stroke-linecap="round" d="M1229.6 1366.3 L1253.2 1354.0"/>
<path stroke-width="4.40" stroke-linecap="round" d="M1253.2 1354.0 L1276.8 1349.9"/>
<path stroke-width="4.20" stroke-linecap="round" d="M1276.8 1349.9 L1301.4 1351.9"/>
<path stroke-width="4.71" stroke-linecap="round" d="M1301.4 1351.9 L1326.0 1342.7"/>
<path stroke-width="4.97" stroke-linecap="round" d="M1326.0 1342.7 L1349.5 1325.3"/>
<path stroke-width="4.86" stroke-linecap="round" d="M1349.5 1325.3 L1373.1 1313.0"/>
<path stroke-width="4.79" stroke-linecap="round" d="M1373.1 1313.0 L1397.7 1257.6"/>
<path stroke-width="4.72" stroke-linecap="round" d="M1397.7 1257.6 L1422.3 1192.5"/>
<path stroke-width="5.00" stroke-linecap="round" d="M1422.3 1192.5 L1446.9 1164.0"/>
<path stroke-width="4.87" stroke-linecap="round" d="M1446.9 1164.0 L1470.5 1176.5"/>
<path stroke-width="4.96" stroke-linecap="round" d="M1470.5 1176.5 L1494.8 1193.7"/>
<path stroke-width="5.01" stroke-linecap="round" d="M1494.8 1193.7 L1519.4 1216.8"/>
<path stroke-width="5.01" stroke-linecap="round" d="M1519.4 1216.8 L1544.0 1239.9"/>
<path stroke-width="4.55" stroke-linecap="round" d="M1544.0 1239.9 L1567.6 1246.0"/>
<path stroke-width="5.00" stroke-linecap="round" d="M1567.6 1246.0 L1591.2 1219.4"/>
<path stroke-width="5.00" stroke-linecap="round" d="M1591.2 1219.4 L1615.8 1189.6"/>
<path stroke-width="4.62" stroke-linecap="round" d="M1615.8 1189.6 L1639.3 1182.5"/>
<path stroke-width="4.99" stroke-linecap="round" d="M1639.3 1182.5 L1663.9 1163.0"/>
<path stroke-width="4.87" stroke-linecap="round" d="M1663.9 1163.0 L1687.5 1118.9"/>
<path stroke-width="4.86" stroke-linecap="round" d="M1687.5 1118.9 L1710.0 1075.9"/>
<path stroke-width="4.82" stroke-linecap="round" d="M1710.0 1075.9 L1733.6 1026.7"/>
<path stroke-width="4.92" stroke-linecap="round" d="M1733.6 1026.7 L1758.7 985.6"/>
<path stroke-width="4.82" stroke-linecap="round" d="M1758.7 985.6 L1782.3 974.4"/>
<path stroke-width="4.47" stroke-linecap="round" d="M1782.3 974.4 L1806.0 969.3"/>
<path stroke-width="5.00" stroke-linecap="round" d="M1806.0 969.3 L1830.7 948.0"/>
<path stroke-width="5.01" stroke-linecap="round" d="M1830.7 948.0 L1855.4 925.5"/>
<path stroke-width="5.01" stroke-linecap="round" d="M1855.4 925.5 L1880.2 901.9"/>
<path stroke-width="4.96" stroke-linecap="round" d="M1880.2 901.9 L1904.9 866.0"/>
<path stroke-width="4.91" stroke-linecap="round" d="M1904.9 866.0 L1928.4 826.7"/>
<path stroke-width="4.97" stroke-linecap="round" d="M1928.4 826.7 L1952.5 793.6"/>
<path stroke-width="4.93" stroke-linecap="round" d="M1952.5 793.6 L1976.5 755.0"/>
<path stroke-width="4.80" stroke-linecap="round" d="M1976.5 755.0 L1998.6 706.7"/>
</g>
<g stroke="#C03929" fill="none" stroke-linejoin="round">
<path stroke-width="4.00" d="M341.5 724.1 L346.5 724.1"/>
<path stroke-width="4.00" d="M351.5 724.1 L356.5 724.1"/>
<path stroke-width="4.00" d="M361.5 724.1 L364.1 724.1"/>
<path stroke-width="4.46" d="M364.6 721.8 L365.9 715.6"/>
<path stroke-width="4.46" d="M367.1 709.5 L368.4 703.4"/>
<path stroke-width="4.46" d="M369.7 697.3 L371.0 691.2"/>
<path stroke-width="4.46" d="M372.2 685.0 L373.5 678.9"/>
<path stroke-width="4.46" d="M374.8 672.8 L376.1 666.7"/>
<path stroke-width="4.46" d="M377.3 660.6 L378.6 654.4"/>
<path stroke-width="4.46" d="M379.9 648.3 L381.2 642.2"/>
<path stroke-width="4.46" d="M382.4 636.1 L383.7 630.0"/>
<path stroke-width="4.46" d="M385.0 623.9 L386.3 617.7"/>
<path stroke-width="4.48" d="M387.5 611.6 L388.7 606.1 L388.9 605.5"/>
<path stroke-width="4.61" d="M390.7 599.5 L392.5 593.5"/>
<path stroke-width="4.61" d="M394.3 587.6 L396.1 581.6"/>
<path stroke-width="4.61" d="M397.9 575.6 L399.7 569.6"/>
<path stroke-width="4.61" d="M401.4 563.6 L403.2 557.6"/>
<path stroke-width="4.61" d="M405.0 551.6 L406.8 545.6"/>
<path stroke-width="4.61" d="M408.6 539.7 L410.4 533.7"/>
<path stroke-width="4.44" d="M412.2 527.7 L412.7 526.1 L413.5 530.6"/>
<path stroke-width="4.38" d="M414.5 536.8 L415.5 543.0"/>
<path stroke-width="4.38" d="M416.5 549.1 L417.6 555.3"/>
<path stroke-width="4.38" d="M418.6 561.4 L419.6 567.6"/>
<path stroke-width="4.38" d="M420.7 573.8 L421.7 579.9"/>
<path stroke-width="4.38" d="M422.7 586.1 L423.8 592.3"/>
<path stroke-width="4.38" d="M424.8 598.4 L425.8 604.6"/>
<path stroke-width="4.38" d="M426.9 610.8 L427.9 616.9"/>
<path stroke-width="4.38" d="M428.9 623.1 L430.0 629.3"/>
<path stroke-width="4.38" d="M431.0 635.4 L432.0 641.6"/>
<path stroke-width="4.38" d="M433.0 647.8 L434.1 653.9"/>
<path stroke-width="4.38" d="M435.1 660.1 L436.1 666.2"/>
<path stroke-width="4.34" d="M437.2 672.4 L438.1 678.6"/>
<path stroke-width="4.34" d="M439.0 684.8 L439.9 691.0"/>
<path stroke-width="4.34" d="M440.8 697.1 L441.7 703.3"/>
<path stroke-width="4.34" d="M442.6 709.5 L443.5 715.7"/>
<path stroke-width="4.34" d="M444.4 721.9 L445.3 728.1"/>
<path stroke-width="4.34" d="M446.2 734.3 L447.1 740.4"/>
<path stroke-width="4.34" d="M448.0 746.6 L448.9 752.8"/>
<path stroke-width="4.34" d="M449.8 759.0 L450.7 765.2"/>
<path stroke-width="4.34" d="M451.6 771.4 L452.5 777.5"/>
<path stroke-width="4.34" d="M453.5 783.7 L454.4 789.9"/>
<path stroke-width="4.34" d="M455.3 796.1 L456.2 802.3"/>
<path stroke-width="4.34" d="M457.1 808.5 L458.0 814.6"/>
<path stroke-width="4.34" d="M458.9 820.8 L459.8 827.0"/>
<path stroke-width="4.64" d="M461.0 833.1 L462.9 839.1"/>
<path stroke-width="4.64" d="M464.8 845.0 L466.7 851.0"/>
<path stroke-width="4.64" d="M468.6 856.9 L470.5 862.9"/>
<path stroke-width="4.64" d="M472.5 868.8 L474.4 874.8"/>
<path stroke-width="4.64" d="M476.3 880.7 L478.2 886.7"/>
<path stroke-width="4.64" d="M480.1 892.6 L482.0 898.6"/>
<path stroke-width="4.79" d="M483.9 904.5 L485.0 908.0 L486.7 910.0"/>
<path stroke-width="5.00" d="M490.7 914.8 L494.7 919.6"/>
<path stroke-width="5.00" d="M498.7 924.4 L502.7 929.2"/>
<path stroke-width="5.00" d="M506.7 934.0 L509.6 937.4 L510.9 938.7"/>
<path stroke-width="5.01" d="M515.3 943.1 L519.7 947.5"/>
<path stroke-width="5.01" d="M524.1 951.9 L528.5 956.3"/>
<path stroke-width="4.78" d="M533.2 960.4 L538.9 962.9"/>
<path stroke-width="4.78" d="M544.7 965.4 L550.4 967.9"/>
<path stroke-width="4.82" d="M556.1 970.4 L558.0 971.2 L561.8 973.1"/>
<path stroke-width="4.85" d="M567.3 975.9 L572.9 978.7"/>
<path stroke-width="4.89" d="M578.5 981.5 L582.4 983.5 L583.5 985.0"/>
<path stroke-width="4.98" d="M587.3 990.0 L591.1 995.0"/>
<path stroke-width="4.98" d="M594.8 1000.0 L598.6 1004.9"/>
<path stroke-width="4.98" d="M602.4 1009.9 L606.0 1014.7 L606.2 1014.9"/>
<path stroke-width="4.99" d="M610.0 1019.8 L613.8 1024.8"/>
<path stroke-width="4.99" d="M617.7 1029.7 L621.5 1034.6"/>
<path stroke-width="4.99" d="M625.4 1039.6 L629.2 1044.5"/>
<path stroke-width="4.38" d="M635.1 1045.9 L641.3 1046.9"/>
<path stroke-width="4.38" d="M647.5 1048.0 L653.6 1049.0"/>
<path stroke-width="4.62" d="M659.6 1047.5 L665.6 1045.7"/>
<path stroke-width="4.62" d="M671.6 1043.8 L677.6 1042.0"/>
<path stroke-width="4.57" d="M683.6 1043.6 L689.6 1045.2"/>
<path stroke-width="4.57" d="M695.7 1046.9 L701.7 1048.5"/>
<path stroke-width="4.93" d="M707.1 1051.7 L712.4 1055.0"/>
<path stroke-width="4.93" d="M717.7 1058.3 L723.0 1061.6"/>
<path stroke-width="4.79" d="M728.4 1064.6 L734.2 1067.1"/>
<path stroke-width="4.79" d="M739.9 1069.6 L745.6 1072.2"/>
<path stroke-width="4.80" d="M751.3 1074.7 L757.0 1077.3"/>
<path stroke-width="4.80" d="M762.7 1079.9 L768.4 1082.4"/>
<path stroke-width="5.01" d="M774.1 1085.0 L774.1 1085.0 L778.7 1089.2"/>
<path stroke-width="5.01" d="M783.4 1093.3 L788.1 1097.5"/>
<path stroke-width="5.00" d="M792.7 1101.7 L797.0 1105.5 L797.4 1105.8"/>
<path stroke-width="4.97" d="M802.5 1109.4 L807.6 1113.1"/>
<path stroke-width="4.97" d="M812.6 1116.7 L817.7 1120.4"/>
<path stroke-width="4.46" d="M823.1 1123.4 L829.2 1124.6"/>
<path stroke-width="4.46" d="M835.3 1125.9 L841.5 1127.2"/>
<path stroke-width="4.76" d="M847.5 1128.7 L853.2 1131.1"/>
<path stroke-width="4.76" d="M859.0 1133.5 L864.8 1135.9"/>
<path stroke-width="4.74" d="M870.6 1138.3 L876.4 1140.6"/>
<path stroke-width="4.74" d="M882.2 1143.0 L888.0 1145.3"/>
<path stroke-width="4.81" d="M893.8 1147.6 L895.2 1148.2 L899.4 1146.1"/>
<path stroke-width="4.84" d="M905.0 1143.4 L910.6 1140.6"/>
<path stroke-width="4.77" d="M916.2 1137.8 L918.7 1136.6 L922.0 1137.8"/>
<path stroke-width="4.72" d="M927.8 1140.0 L933.7 1142.2"/>
<path stroke-width="4.85" d="M939.5 1144.5 L942.3 1145.5 L944.2 1148.1"/>
<path stroke-width="4.97" d="M947.9 1153.2 L951.7 1158.2"/>
<path stroke-width="4.97" d="M955.4 1163.2 L959.1 1168.3"/>
<path stroke-width="4.97" d="M962.8 1173.3 L966.5 1178.3"/>
<path stroke-width="5.01" d="M970.7 1182.9 L975.1 1187.4"/>
<path stroke-width="5.01" d="M979.4 1191.9 L983.7 1196.4"/>
<path stroke-width="4.83" d="M988.0 1201.0 L989.5 1202.5 L993.3 1204.0"/>
<path stroke-width="4.74" d="M999.1 1206.3 L1004.9 1208.6"/>
<path stroke-width="4.60" d="M1010.7 1211.0 L1014.1 1212.3 L1016.7 1212.8"/>
<path stroke-width="4.42" d="M1022.8 1213.9 L1029.0 1215.1"/>
<path stroke-width="4.40" d="M1035.1 1216.2 L1037.9 1216.7 L1041.3 1217.3"/>
<path stroke-width="4.39" d="M1047.4 1218.3 L1053.6 1219.4"/>
<path stroke-width="4.71" d="M1059.8 1220.4 L1061.5 1220.7 L1065.5 1222.7"/>
<path stroke-width="4.84" d="M1071.1 1225.5 L1076.7 1228.3"/>
<path stroke-width="4.88" d="M1082.3 1231.1 L1086.1 1233.0 L1087.7 1234.2"/>
<path stroke-width="4.97" d="M1092.8 1237.8 L1097.9 1241.4"/>
<path stroke-width="4.97" d="M1103.0 1245.0 L1108.1 1248.6"/>
<path stroke-width="4.78" d="M1113.5 1251.7 L1119.2 1254.2"/>
<path stroke-width="4.78" d="M1125.0 1256.7 L1130.7 1259.2"/>
<path stroke-width="4.97" d="M1135.7 1258.8 L1139.3 1253.7"/>
<path stroke-width="4.97" d="M1143.0 1248.7 L1146.6 1243.6"/>
<path stroke-width="4.97" d="M1150.3 1238.5 L1153.9 1233.4"/>
<path stroke-width="4.88" d="M1157.6 1228.4 L1157.9 1227.9 L1160.6 1222.9"/>
<path stroke-width="4.87" d="M1163.5 1217.4 L1166.5 1211.9"/>
<path stroke-width="4.87" d="M1169.4 1206.3 L1172.3 1200.8"/>
<path stroke-width="4.87" d="M1175.3 1195.3 L1178.2 1189.8"/>
<path stroke-width="4.86" d="M1181.2 1184.3 L1182.5 1181.8 L1185.5 1183.4"/>
<path stroke-width="4.86" d="M1191.1 1186.3 L1196.6 1189.2"/>
<path stroke-width="4.84" d="M1202.2 1192.1 L1206.0 1194.1 L1206.8 1195.9"/>
<path stroke-width="4.78" d="M1209.3 1201.6 L1211.7 1207.3"/>
<path stroke-width="4.78" d="M1214.2 1213.0 L1216.7 1218.8"/>
<path stroke-width="4.78" d="M1219.2 1224.5 L1221.7 1230.2"/>
<path stroke-width="4.78" d="M1224.2 1236.0 L1226.7 1241.7"/>
<path stroke-width="4.96" d="M1229.2 1247.4 L1229.6 1248.4 L1232.8 1252.5"/>
<path stroke-width="4.99" d="M1236.7 1257.3 L1240.6 1262.2"/>
<path stroke-width="4.99" d="M1244.5 1267.1 L1248.4 1272.0"/>
<path stroke-width="4.85" d="M1252.3 1276.9 L1254.2 1279.2 L1257.3 1280.4"/>
<path stroke-width="4.73" d="M1263.1 1282.7 L1268.9 1284.9"/>
<path stroke-width="4.57" d="M1274.7 1287.2 L1277.8 1288.4 L1280.7 1288.9"/>
<path stroke-width="4.38" d="M1286.9 1289.9 L1293.0 1290.9"/>
<path stroke-width="4.25" d="M1299.2 1292.0 L1302.4 1292.5 L1305.4 1292.6"/>
<path stroke-width="4.11" d="M1311.7 1292.9 L1317.9 1293.2"/>
<path stroke-width="4.30" d="M1324.1 1293.4 L1326.0 1293.5 L1330.3 1292.8"/>
<path stroke-width="4.38" d="M1336.5 1291.8 L1342.7 1290.7"/>
<path stroke-width="4.81" d="M1348.8 1289.7 L1350.6 1289.4 L1354.2 1286.7"/>
<path stroke-width="4.98" d="M1359.2 1283.0 L1364.2 1279.2"/>
<path stroke-width="4.98" d="M1369.2 1275.5 L1374.2 1271.7"/>
<path stroke-width="4.62" d="M1376.2 1265.9 L1378.0 1259.9"/>
<path stroke-width="4.62" d="M1379.9 1254.0 L1381.7 1248.0"/>
<path stroke-width="4.62" d="M1383.5 1242.0 L1385.3 1236.0"/>
<path stroke-width="4.62" d="M1387.2 1230.0 L1389.0 1224.1"/>
<path stroke-width="4.62" d="M1390.8 1218.1 L1392.6 1212.1"/>
<path stroke-width="4.62" d="M1394.5 1206.1 L1396.3 1200.2"/>
<path stroke-width="4.54" d="M1398.0 1194.2 L1399.6 1188.1"/>
<path stroke-width="4.54" d="M1401.1 1182.0 L1402.6 1176.0"/>
<path stroke-width="4.54" d="M1404.1 1169.9 L1405.6 1163.8"/>
<path stroke-width="4.54" d="M1407.2 1157.8 L1408.7 1151.7"/>
<path stroke-width="4.54" d="M1410.2 1145.7 L1411.7 1139.6"/>
<path stroke-width="4.54" d="M1413.3 1133.5 L1414.8 1127.5"/>
<path stroke-width="4.54" d="M1416.3 1121.4 L1417.8 1115.4"/>
<path stroke-width="4.54" d="M1419.3 1109.3 L1420.9 1103.2"/>
<path stroke-width="4.63" d="M1422.4 1097.2 L1423.0 1094.7 L1426.5 1095.9"/>
<path stroke-width="4.69" d="M1432.4 1098.0 L1438.3 1100.1"/>
<path stroke-width="4.67" d="M1444.2 1102.2 L1447.7 1103.5 L1448.4 1105.9"/>
<path stroke-width="4.63" d="M1450.3 1111.8 L1452.2 1117.8"/>
<path stroke-width="4.63" d="M1454.0 1123.8 L1455.9 1129.7"/>
<path stroke-width="4.63" d="M1457.8 1135.7 L1459.7 1141.7"/>
<path stroke-width="4.63" d="M1461.5 1147.6 L1463.4 1153.6"/>
<path stroke-width="4.63" d="M1465.3 1159.5 L1467.1 1165.5"/>
<path stroke-width="4.75" d="M1469.0 1171.5 L1470.2 1175.3 L1471.5 1177.1"/>
<path stroke-width="4.96" d="M1475.1 1182.2 L1478.7 1187.3"/>
<path stroke-width="4.96" d="M1482.3 1192.4 L1485.9 1197.5"/>
<path stroke-width="4.96" d="M1489.5 1202.6 L1493.1 1207.8"/>
<path stroke-width="4.06" d="M1498.2 1210.0 L1504.4 1209.9"/>
<path stroke-width="4.06" d="M1510.7 1209.7 L1516.9 1209.6"/>
<path stroke-width="4.41" d="M1523.1 1208.8 L1529.3 1207.7"/>
<path stroke-width="4.41" d="M1535.4 1206.6 L1541.6 1205.4"/>
<path stroke-width="4.62" d="M1547.6 1203.9 L1553.6 1202.1"/>
<path stroke-width="4.62" d="M1559.6 1200.3 L1565.5 1198.4"/>
<path stroke-width="4.82" d="M1571.3 1196.0 L1576.9 1193.3"/>
<path stroke-width="4.82" d="M1582.6 1190.6 L1588.2 1187.9"/>
<path stroke-width="4.97" d="M1593.6 1184.8 L1598.6 1181.1"/>
<path stroke-width="4.97" d="M1603.7 1177.5 L1608.7 1173.8"/>
<path stroke-width="5.01" d="M1613.8 1170.1 L1618.4 1165.9"/>
<path stroke-width="5.01" d="M1623.0 1161.6 L1627.6 1157.4"/>
<path stroke-width="5.01" d="M1632.2 1153.2 L1636.8 1148.9"/>
<path stroke-width="5.01" d="M1641.3 1144.6 L1645.7 1140.2"/>
<path stroke-width="5.01" d="M1650.1 1135.8 L1654.6 1131.3"/>
<path stroke-width="5.01" d="M1659.0 1126.9 L1663.4 1122.5"/>
<path stroke-width="5.00" d="M1668.1 1118.4 L1672.8 1114.3"/>
<path stroke-width="5.00" d="M1677.5 1110.2 L1682.2 1106.1"/>
<path stroke-width="4.89" d="M1686.9 1102.0 L1687.5 1101.5 L1690.1 1096.6"/>
<path stroke-width="4.87" d="M1693.1 1091.1 L1696.0 1085.6"/>
<path stroke-width="4.87" d="M1699.0 1080.1 L1701.9 1074.6"/>
<path stroke-width="4.87" d="M1704.9 1069.1 L1707.8 1063.6"/>
<path stroke-width="4.64" d="M1710.5 1058.0 L1712.4 1052.0"/>
<path stroke-width="4.64" d="M1714.3 1046.1 L1716.2 1040.1"/>
<path stroke-width="4.64" d="M1718.2 1034.2 L1720.1 1028.2"/>
<path stroke-width="4.64" d="M1722.0 1022.3 L1723.9 1016.3"/>
<path stroke-width="4.64" d="M1725.8 1010.4 L1727.7 1004.4"/>
<path stroke-width="4.64" d="M1729.7 998.5 L1731.6 992.5"/>
<path stroke-width="4.94" d="M1733.5 986.6 L1733.6 986.2 L1737.0 981.4"/>
<path stroke-width="4.96" d="M1740.6 976.3 L1744.2 971.2"/>
<path stroke-width="4.96" d="M1747.8 966.1 L1751.5 961.0"/>
<path stroke-width="4.96" d="M1755.1 955.9 L1758.7 950.8"/>
<path stroke-width="4.91" d="M1764.0 954.0 L1769.4 957.2"/>
<path stroke-width="4.91" d="M1774.8 960.4 L1780.2 963.5"/>
<path stroke-width="4.00" d="M1786.1 964.8 L1792.3 964.8"/>
<path stroke-width="4.00" d="M1798.6 964.8 L1804.8 964.8"/>
<path stroke-width="5.01" d="M1809.5 961.2 L1813.9 956.7"/>
<path stroke-width="5.01" d="M1818.3 952.2 L1822.6 947.7"/>
<path stroke-width="5.01" d="M1827.0 943.3 L1830.7 939.5 L1831.4 938.8"/>
<path stroke-width="5.01" d="M1835.6 934.2 L1839.9 929.7"/>
<path stroke-width="5.01" d="M1844.2 925.1 L1848.4 920.5"/>
<path stroke-width="5.01" d="M1852.7 916.0 L1855.4 913.1 L1857.1 911.5"/>
<path stroke-width="5.01" d="M1861.7 907.3 L1866.2 903.0"/>
<path stroke-width="5.01" d="M1870.8 898.7 L1875.4 894.5"/>
<path stroke-width="4.87" d="M1880.0 890.2 L1880.2 890.0 L1883.0 884.8"/>
<path stroke-width="4.86" d="M1885.9 879.2 L1888.8 873.7"/>
<path stroke-width="4.86" d="M1891.7 868.2 L1894.6 862.7"/>
<path stroke-width="4.86" d="M1897.6 857.1 L1900.5 851.6"/>
<path stroke-width="4.86" d="M1903.4 846.1 L1904.5 844.0 L1906.3 840.5"/>
<path stroke-width="4.86" d="M1909.2 835.0 L1912.1 829.5"/>
<path stroke-width="4.86" d="M1915.0 823.9 L1917.9 818.4"/>
<path stroke-width="4.86" d="M1920.8 812.8 L1923.7 807.3"/>
<path stroke-width="4.90" d="M1926.5 801.8 L1928.4 798.2 L1930.2 796.8"/>
<path stroke-width="4.98" d="M1935.1 793.0 L1940.1 789.2"/>
<path stroke-width="4.98" d="M1945.1 785.4 L1950.0 781.6"/>
<path stroke-width="4.79" d="M1955.3 778.4 L1961.1 775.9"/>
<path stroke-width="4.79" d="M1966.8 773.4 L1972.5 770.9"/>
<path stroke-width="4.97" d="M1977.6 767.6 L1981.2 762.5"/>
<path stroke-width="4.97" d="M1984.9 757.4 L1988.5 752.3"/>
<path stroke-width="4.97" d="M1992.2 747.3 L1995.8 742.2"/>
</g>
<line x1="2087.0" y1="320" x2="2170.2" y2="320" stroke="#E9B955" stroke-width="4"/>
<text transform="translate(2187.0 338.4) scale(1 1.035)" font-size="64.8" text-anchor="start">Data (H1)</text>
<line x1="2087.0" y1="640" x2="2170.2" y2="640" stroke="#E9B955" stroke-width="4" stroke-dasharray="5 5"/>
<text transform="translate(2187.0 658.4) scale(1 1.035)" font-size="64.8" text-anchor="start">Noise (H1)</text>
<line x1="2087.0" y1="960" x2="2170.2" y2="960" stroke="#C03929" stroke-width="4"/>
<text transform="translate(2187.0 978.4) scale(1 1.035)" font-size="64.8" text-anchor="start">Data (L1)</text>
<line x1="2087.0" y1="1280" x2="2170.2" y2="1280" stroke="#C03929" stroke-width="4" stroke-dasharray="5 5"/>
<text transform="translate(2187.0 1298.4) scale(1 1.035)" font-size="64.8" text-anchor="start">Noise (L1)</text>
<text transform="translate(1212.9 73.0) scale(1 1.000)" font-size="72.9" text-anchor="middle">Amplitude variance</text>
<text transform="translate(107.2 158.6) rotate(-90) scale(1 1.000)" font-size="52.0" text-anchor="end">Amplitude variance</text>
<text transform="translate(2046.4 1542.5) scale(1 1.000)" font-size="52.0" text-anchor="end">Frequency [Hz]</text>
<text transform="translate(159.9 230.1) scale(1 1.045)" font-size="50.7" text-anchor="start">10<tspan font-size="34.2" dx="-2.2" dy="-18.95">−</tspan><tspan font-size="34.2" dy="-2.87">46</tspan></text>
<text transform="translate(159.9 1025.1) scale(1 1.045)" font-size="50.7" text-anchor="start">10<tspan font-size="34.2" dx="-2.2" dy="-18.95">−</tspan><tspan font-size="34.2" dy="-2.87">47</tspan></text>
<text transform="translate(621.0 1511.9) scale(1 1.045)" font-size="50.7" text-anchor="start">10<tspan font-size="34.2" dx="-2.2" dy="-21.82">2</tspan></text>
<text transform="translate(1708.5 1511.9) scale(1 1.045)" font-size="50.7" text-anchor="start">10<tspan font-size="34.2" dx="-2.2" dy="-21.82">3</tspan></text>
</svg></body></html>
